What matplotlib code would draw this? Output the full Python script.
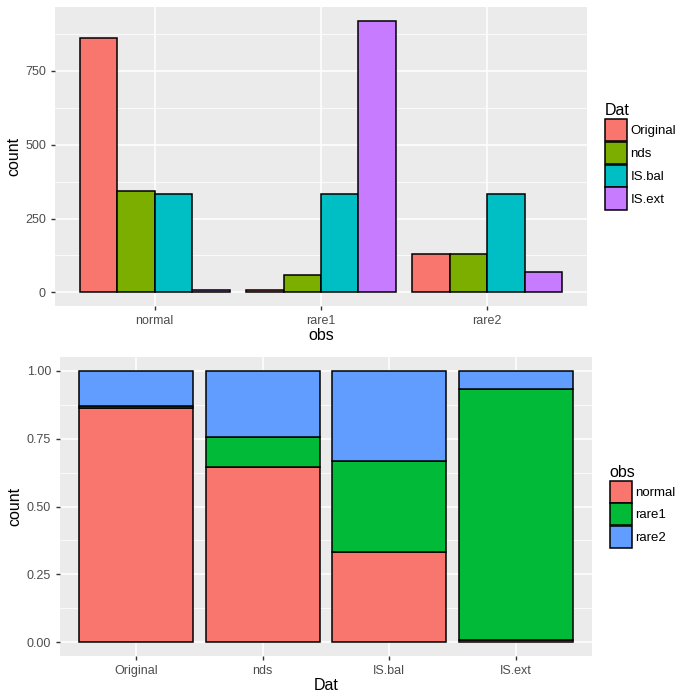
import numpy as np
import matplotlib
matplotlib.use('Agg')
import matplotlib.pyplot as plt
from matplotlib.patches import Patch

plt.rcParams['font.family'] = ['Liberation Sans', 'DejaVu Sans']

# data: counts per observation class for each data set
obs_levels = ['normal', 'rare1', 'rare2']
dat_levels = ['Original', 'nds', 'IS.bal', 'IS.ext']
counts_original = [860, 7, 129]
counts_nds = [342, 58, 129]
counts_isbal = [333, 333, 333]
counts_isext = [9, 920, 68]

dat_colors = ['#F8766D', '#7CAE00', '#00BFC4', '#C77CFF']
obs_colors = ['#F8766D', '#00BA38', '#619CFF']

counts = np.array([counts_original, counts_nds, counts_isbal, counts_isext], dtype=float)

BG = '#EBEBEB'
TICK_C = '#4D4D4D'


def gg_style(ax):
    ax.set_facecolor(BG)
    for s in ax.spines.values():
        s.set_visible(False)
    ax.tick_params(axis='both', colors='#333333', labelcolor=TICK_C,
                   labelsize=9, length=3, width=1)
    ax.grid(which='major', color='white', linewidth=1.1)
    ax.grid(which='minor', color='white', linewidth=0.55)
    ax.set_axisbelow(True)


def gg_legend(ax, colors, labels, title):
    handles = [Patch(facecolor=c, edgecolor='black', linewidth=1.1) for c in colors]
    leg = ax.legend(handles=handles, labels=labels, title=title, loc='center left',
                    bbox_to_anchor=(1.033, 0.5), frameon=False, fontsize=9.5,
                    title_fontsize=11.5, handlelength=1.7, handleheight=2.2,
                    labelspacing=0.05, handletextpad=0.25, borderaxespad=0,
                    borderpad=0)
    leg._legend_box.align = 'left'
    return leg


fig = plt.figure(figsize=(7, 7), dpi=100)

# top panel: dodged counts
ax1 = fig.add_axes([55 / 700, 1 - 306 / 700, 532 / 700, 299 / 700])
gg_style(ax1)
n_dat = len(dat_levels)
bw = 0.9 / n_dat
xpos = np.arange(1, len(obs_levels) + 1)
for j, name in enumerate(dat_levels):
    off = -0.45 + bw * (j + 0.5)
    ax1.bar(xpos + off, counts[j], width=bw, color=dat_colors[j],
            edgecolor='black', linewidth=1.1, label=name, zorder=3)
ax1.set_xlim(0.4, len(obs_levels) + 0.6)
ymax = counts.max()
ax1.set_ylim(-0.05 * ymax, 1.05 * ymax)
ax1.set_yticks([0, 250, 500, 750])
ax1.set_yticks([125, 375, 625, 875], minor=True)
ax1.set_xticks(xpos)
ax1.set_xticklabels(obs_levels)
ax1.tick_params(axis='both', which='minor', length=0)
ax1.set_xlabel('obs', fontsize=11.5, labelpad=1)
ax1.set_ylabel('count', fontsize=11.5, labelpad=3)
gg_legend(ax1, dat_colors, dat_levels, 'Dat')

# bottom panel: proportions (stacked, filled)
ax2 = fig.add_axes([60 / 700, 1 - 656 / 700, 532 / 700, 299 / 700])
gg_style(ax2)
props = counts / counts.sum(axis=1, keepdims=True)
xpos2 = np.arange(1, len(dat_levels) + 1)
bottom = np.zeros(len(dat_levels))
for i, name in enumerate(obs_levels):
    ax2.bar(xpos2, props[:, i], bottom=bottom, width=0.9, color=obs_colors[i],
            edgecolor='black', linewidth=1.1, label=name, zorder=3)
    bottom += props[:, i]
ax2.set_xlim(0.4, len(dat_levels) + 0.6)
ax2.set_ylim(-0.05, 1.05)
ax2.set_yticks([0, 0.25, 0.5, 0.75, 1.0])
ax2.set_yticklabels(['0.00', '0.25', '0.50', '0.75', '1.00'])
ax2.set_yticks([0.125, 0.375, 0.625, 0.875], minor=True)
ax2.set_xticks(xpos2)
ax2.set_xticklabels(dat_levels)
ax2.tick_params(axis='both', which='minor', length=0)
ax2.set_xlabel('Dat', fontsize=11.5, labelpad=1)
ax2.set_ylabel('count', fontsize=11.5, labelpad=3)
gg_legend(ax2, obs_colors, obs_levels, 'obs')

fig.savefig('out.png', dpi=100)
plt.close(fig)
